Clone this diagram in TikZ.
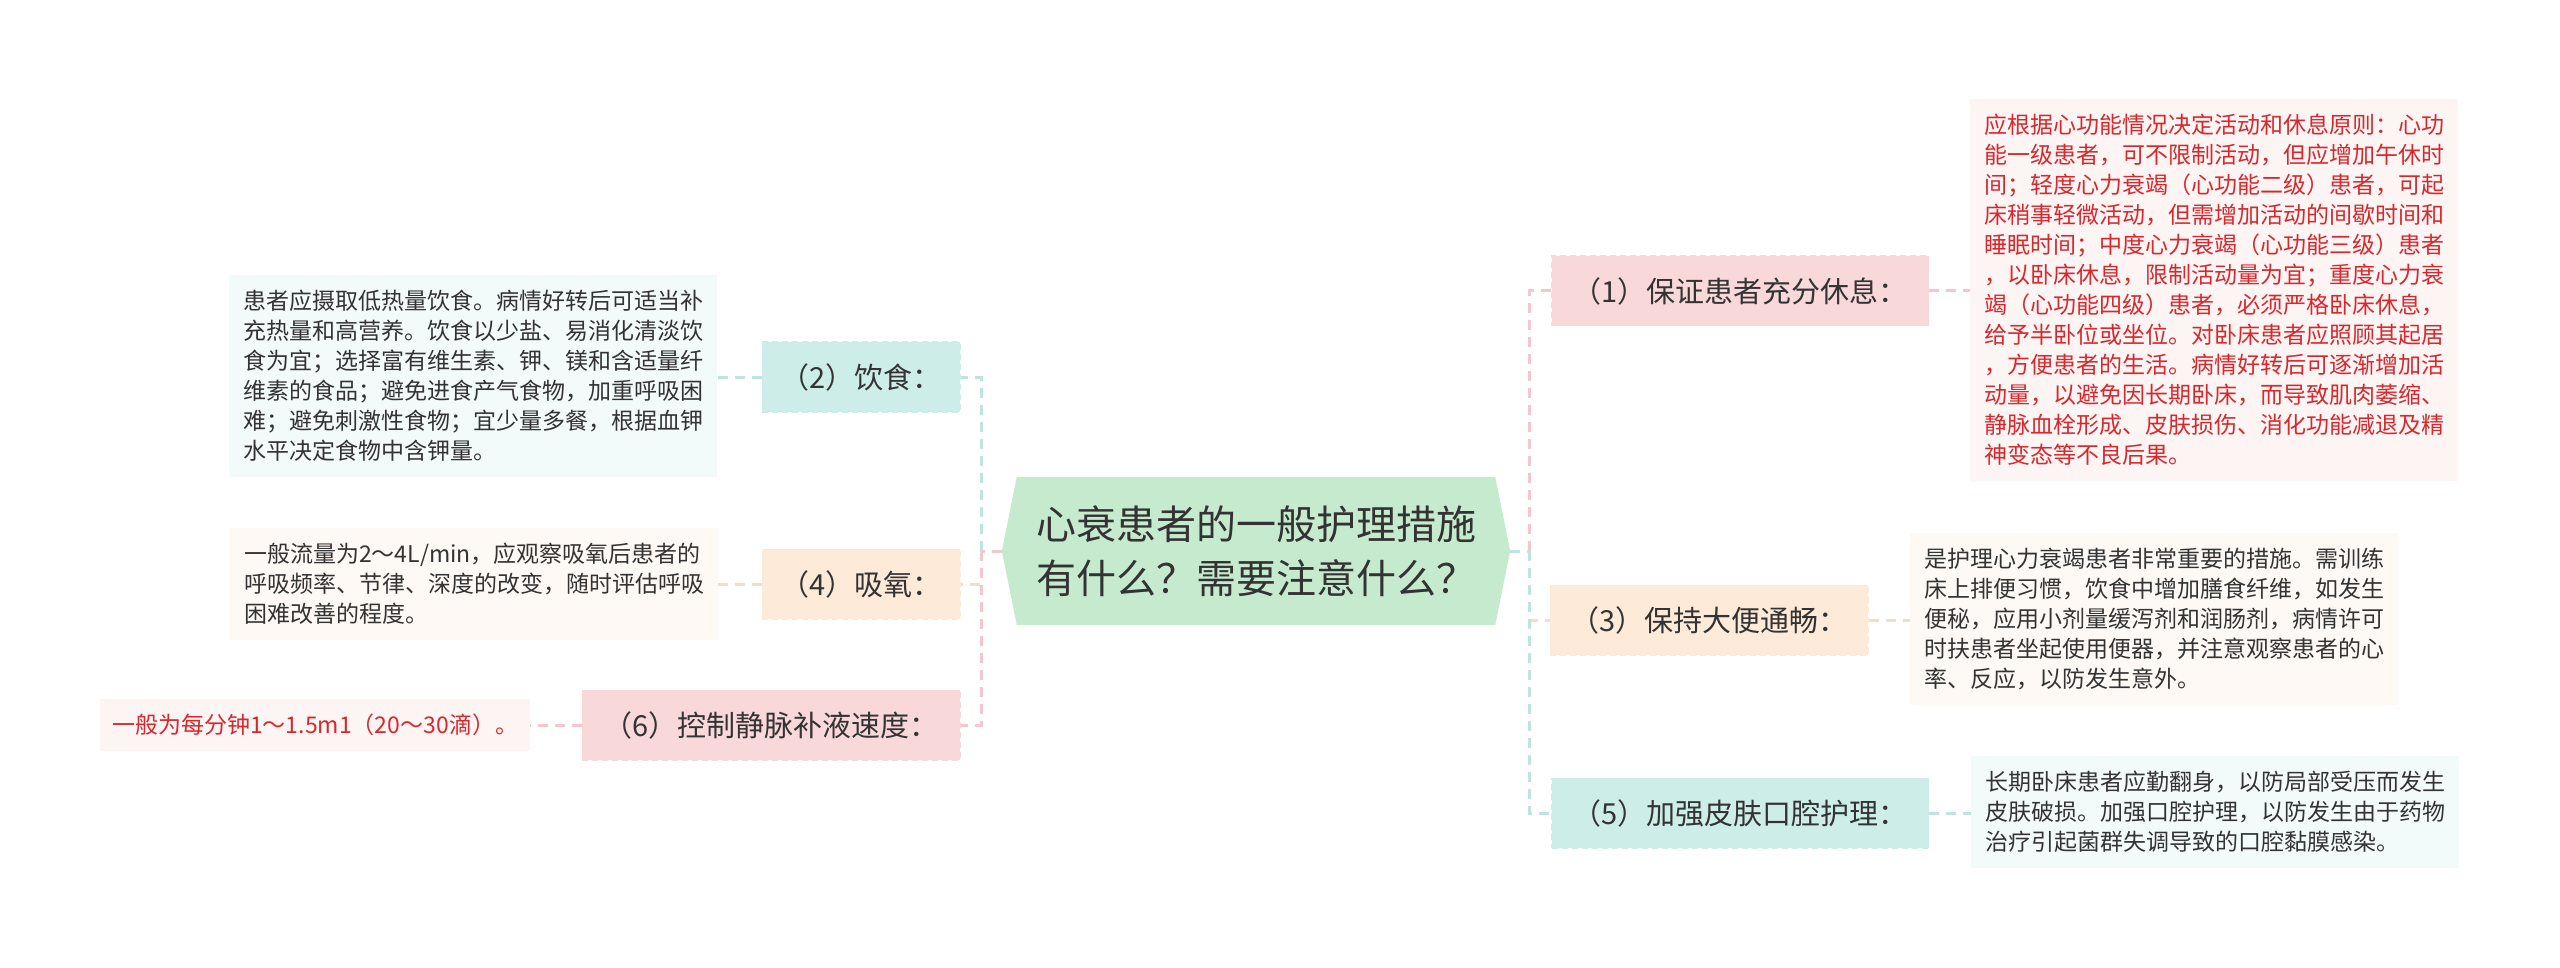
\documentclass[tikz,border=0pt]{standalone}
\usepackage{fontspec}
\newfontfamily\cjk{Noto Sans CJK SC}
\usetikzlibrary{calc}
\definecolor{txtdark}{HTML}{333333}
\definecolor{txtred}{HTML}{D8282D}
\definecolor{fillpink}{HTML}{F9D8D9}
\definecolor{fillpeach}{HTML}{FDEAD9}
\definecolor{fillcyan}{HTML}{CDEEE8}
\definecolor{fillgreen}{HTML}{C6EACD}
\definecolor{detpink}{HTML}{FDF4F4}
\definecolor{detpeach}{HTML}{FEF9F4}
\definecolor{detcyan}{HTML}{F3FBFA}
\definecolor{lpink}{HTML}{F5C6CB}
\definecolor{lpeach}{HTML}{F8DBC4}
\definecolor{lcyan}{HTML}{BDE5DF}
\begin{document}
\begin{tikzpicture}[x=1pt,y=-1pt,
  branchbox/.style={font=\cjk\fontsize{29}{34}\selectfont, text=txtdark,
    minimum height=70pt, inner sep=0pt, align=center,
    line width=1pt, dash pattern=on 6pt off 4pt},
  detailbox/.style={font=\cjk\fontsize{23}{30}\selectfont, text=txtdark,
    align=left, inner xsep=14pt, inner ysep=15pt, anchor=west},
  conn/.style={line width=3pt, dash pattern=on 10pt off 7pt},
  lnpink/.style={conn, draw=lpink},
  lnpeach/.style={conn, draw=lpeach},
  lncyan/.style={conn, draw=lcyan}]
\useasboundingbox (0,0) rectangle (2560,968);

% central topic
\node[font=\cjk\fontsize{40}{54}\selectfont, text=txtdark, fill=fillgreen,
  minimum width=478pt, minimum height=148pt, inner xsep=19pt, align=left]
  (c) at (1256,551) {心衰患者的一般护理措施\\有什么？需要注意什么？};
\fill[fillgreen] (c.north west) -- ([xshift=-15pt]c.west) -- (c.south west) -- cycle;
\fill[fillgreen] (c.north east) -- ([xshift=15pt]c.east) -- (c.south east) -- cycle;
\coordinate (cwt) at ([xshift=-15pt]c.west);
\coordinate (cet) at ([xshift=15pt]c.east);
\coordinate (lb) at (981,551);
\coordinate (rb) at (1529,551);

% left branches
\node[branchbox, fill=fillcyan, draw=fillcyan!85!lcyan, minimum width=198pt] (b2) at (861,377) {（2）饮食：};
\node[branchbox, fill=fillpeach, draw=fillpeach!85!lpeach, minimum width=198pt] (b4) at (861,584) {（4）吸氧：};
\node[branchbox, fill=fillpink, draw=fillpink!85!lpink, minimum width=378pt] (b6) at (771,725) {（6）控制静脉补液速度：};

% right branches
\node[branchbox, fill=fillpink, draw=fillpink!85!lpink, minimum width=377pt] (b1) at (1740,291) {（1）保证患者充分休息：};
\node[branchbox, fill=fillpeach, draw=fillpeach!85!lpeach, minimum width=318pt] (b3) at (1709,620) {（3）保持大便通畅：};
\node[branchbox, fill=fillcyan, draw=fillcyan!85!lcyan, minimum width=377pt] (b5) at (1740,813) {（5）加强皮肤口腔护理：};

% left details
\node[detailbox, fill=detcyan] (d2) at (229,376) {患者应摄取低热量饮食。病情好转后可适当补\\充热量和高营养。饮食以少盐、易消化清淡饮\\食为宜；选择富有维生素、钾、镁和含适量纤\\维素的食品；避免进食产气食物，加重呼吸困\\难；避免刺激性食物；宜少量多餐，根据血钾\\水平决定食物中含钾量。};
\node[detailbox, fill=detpeach] (d4) at (230,584) {一般流量为2～4L/min，应观察吸氧后患者的\\呼吸频率、节律、深度的改变，随时评估呼吸\\困难改善的程度。};
\node[detailbox, fill=detpink, text=txtred, inner xsep=12pt] (d6) at (100,725) {一般为每分钟1～1.5m1（20～30滴）。};

% right details
\node[detailbox, fill=detpink, text=txtred] (d1) at (1970,290) {应根据心功能情况决定活动和休息原则：心功\\能一级患者，可不限制活动，但应增加午休时\\间；轻度心力衰竭（心功能二级）患者，可起\\床稍事轻微活动，但需增加活动的间歇时间和\\睡眠时间；中度心力衰竭（心功能三级）患者\\，以卧床休息，限制活动量为宜；重度心力衰\\竭（心功能四级）患者，必须严格卧床休息，\\给予半卧位或坐位。对卧床患者应照顾其起居\\，方便患者的生活。病情好转后可逐渐增加活\\动量，以避免因长期卧床，而导致肌肉萎缩、\\静脉血栓形成、皮肤损伤、消化功能减退及精\\神变态等不良后果。};
\node[detailbox, fill=detpeach] (d3) at (1910,619) {是护理心力衰竭患者非常重要的措施。需训练\\床上排便习惯，饮食中增加膳食纤维，如发生\\便秘，应用小剂量缓泻剂和润肠剂，病情许可\\时扶患者坐起使用便器，并注意观察患者的心\\率、反应，以防发生意外。};
\node[detailbox, fill=detcyan] (d5) at (1971,812) {长期卧床患者应勤翻身，以防局部受压而发生\\皮肤破损。加强口腔护理，以防发生由于药物\\治疗引起菌群失调导致的口腔黏膜感染。};

% connectors: center to branches
\draw[lnpeach] (lb) |- (b4.east);
\draw[lncyan] (lb) |- (b2.east);
\draw[lnpink] (lb) |- (b6.east);
\draw[lnpink] (cwt) -- (lb);
\draw[lnpeach] (rb) |- (b3.west);
\draw[lnpink] (rb) |- (b1.west);
\draw[lncyan] (rb) |- (b5.west);
\draw[lncyan] (cet) -- (rb);

% connectors: branches to details
\draw[lncyan] (b2.west) -- (d2.east |- b2.west);
\draw[lnpeach] (b4.west) -- (d4.east |- b4.west);
\draw[lnpink] (b6.west) -- (d6.east |- b6.west);
\draw[lnpink] (b1.east) -- (d1.west |- b1.east);
\draw[lnpeach] (b3.east) -- (d3.west |- b3.east);
\draw[lncyan] (b5.east) -- (d5.west |- b5.east);
\end{tikzpicture}
\end{document}
